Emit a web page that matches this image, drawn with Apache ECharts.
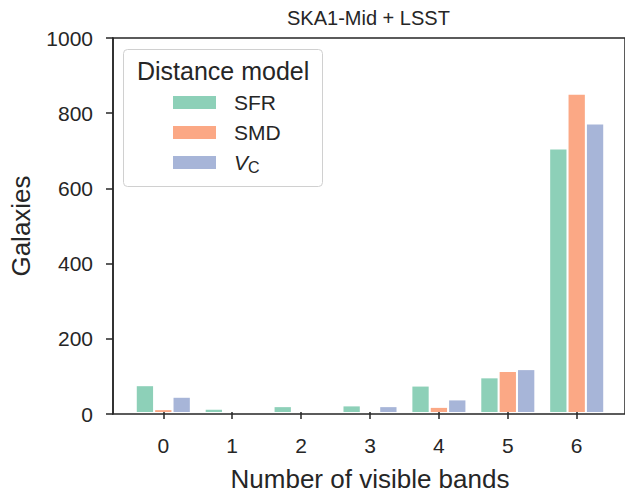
<!DOCTYPE html>
<html><head><meta charset="utf-8">
<script src="https://cdn.jsdelivr.net/npm/echarts@6/dist/echarts.min.js"></script>
<style>html,body{margin:0;padding:0;background:#fff}#c{width:625px;height:497px}</style>
</head><body><div id="c"></div>
<script>
const categories = ['0','1','2','3','4','5','6'];
const sfr = [69, 6, 13, 15, 68, 90, 702];
const smd = [5, 0, 0, 0, 11, 107, 848];
const vc  = [38, 0, 0, 13, 31, 112, 769];
const yTicks = [0, 200, 400, 600, 800, 1000];

const FONT = "'Liberation Sans', Arial, sans-serif";
const INK = '#262626';
const colors = ['#8dd0b8', '#fba885', '#a7b5d8'];

const chart = echarts.init(document.getElementById('c'), null, {renderer: 'svg'});
const barCommon = {type: 'bar', xAxisIndex: 1, yAxisIndex: 1, barWidth: 16.3, barGap: '12.7%'};
chart.setOption({
  animation: false,
  textStyle: {fontFamily: FONT},
  title: [
    {text: 'SKA1-Mid + LSST', left: 282, top: 3, textStyle: {fontFamily: FONT, fontSize: 20, fontWeight: 'normal', color: INK}},
    {text: 'Distance model', left: 132, top: 53, textStyle: {fontFamily: FONT, fontSize: 25, fontWeight: 'normal', color: INK}}
  ],
  graphic: [{
    type: 'rect', z: 5, left: 123, top: 49,
    shape: {width: 199, height: 137, r: 4},
    style: {fill: 'rgba(255,255,255,0.85)', stroke: '#d0d0d0', lineWidth: 1}
  }],
  legend: {
    orient: 'vertical', left: 168, top: 87, z: 10,
    itemWidth: 43, itemHeight: 13, itemGap: 9,
    icon: 'rect',
    data: ['SFR', 'SMD', 'VC'],
    formatter: n => n === 'VC' ? '{i|V}{s|C}' : n,
    textStyle: {fontFamily: FONT, fontSize: 21, color: INK, padding: [0, 0, 0, 13],
      rich: {i: {fontFamily: FONT, fontSize: 21, fontStyle: 'italic', color: INK},
             s: {fontFamily: FONT, fontSize: 16, color: INK, padding: [10, 0, 0, 0]}}}
  },
  grid: [
    {left: 112, top: 38, width: 515, height: 376, show: true, borderColor: INK, borderWidth: 1.5, backgroundColor: 'transparent'},
    {left: 128.85, top: 38, width: 482.3, height: 376}
  ],
  xAxis: [
    {type: 'value', gridIndex: 0, show: false, min: 0, max: 1},
    {type: 'category', gridIndex: 1, data: categories,
     axisLine: {show: false},
     axisTick: {show: true, alignWithLabel: true, length: 7, lineStyle: {color: INK, width: 1.5}},
     axisLabel: {fontFamily: FONT, fontSize: 21, color: INK, margin: 23},
     name: 'Number of visible bands', nameLocation: 'middle', nameGap: 54,
     nameTextStyle: {fontFamily: FONT, fontSize: 26, color: INK}}
  ],
  yAxis: [
    {type: 'value', gridIndex: 0, min: yTicks[0], max: yTicks[yTicks.length - 1], interval: yTicks[1] - yTicks[0],
     axisLine: {show: true, lineStyle: {color: INK, width: 1.5}},
     axisTick: {show: true, length: 7, lineStyle: {color: INK, width: 1.5}},
     axisLabel: {fontFamily: FONT, fontSize: 21, color: INK, margin: 20, formatter: v => String(v)},
     splitLine: {show: false},
     name: 'Galaxies', nameLocation: 'middle', nameGap: 79,
     nameTextStyle: {fontFamily: FONT, fontSize: 26, color: INK}},
    {type: 'value', gridIndex: 1, show: false, min: 0, max: 1000}
  ],
  series: [
    Object.assign({name: 'SFR', data: sfr, itemStyle: {color: colors[0]}}, barCommon),
    Object.assign({name: 'SMD', data: smd, itemStyle: {color: colors[1]}}, barCommon),
    Object.assign({name: 'VC', data: vc, itemStyle: {color: colors[2]}}, barCommon)
  ]
});
</script></body></html>
